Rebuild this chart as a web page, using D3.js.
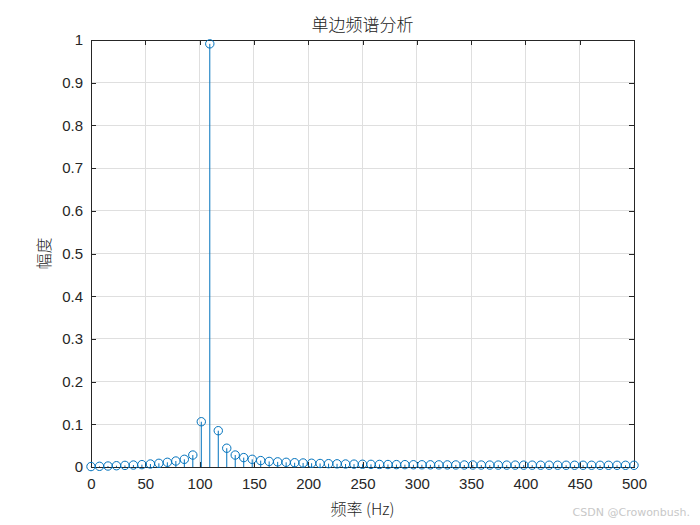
<!DOCTYPE html>
<html>
<head>
<meta charset="utf-8">
<script src="https://cdn.jsdelivr.net/npm/d3@7"></script>
<style>
html,body{margin:0;padding:0;background:#fff;}
svg{display:block;}
</style>
</head>
<body>
<script>
const freqs = [0, 7.81, 15.63, 23.44, 31.25, 39.06, 46.88, 54.69, 62.5, 70.31, 78.13, 85.94, 93.75, 101.56, 109.38, 117.19, 125, 132.81, 140.63, 148.44, 156.25, 164.06, 171.88, 179.69, 187.5, 195.31, 203.13, 210.94, 218.75, 226.56, 234.38, 242.19, 250, 257.81, 265.63, 273.44, 281.25, 289.06, 296.88, 304.69, 312.5, 320.31, 328.13, 335.94, 343.75, 351.56, 359.38, 367.19, 375, 382.81, 390.63, 398.44, 406.25, 414.06, 421.88, 429.69, 437.5, 445.31, 453.13, 460.94, 468.75, 476.56, 484.38, 492.19, 500];
const amps = [0.001, 0.0016, 0.0023, 0.003, 0.0038, 0.0046, 0.0055, 0.007, 0.0086, 0.011, 0.014, 0.018, 0.028, 0.106, 0.991, 0.085, 0.044, 0.028, 0.022, 0.018, 0.015, 0.013, 0.012, 0.011, 0.010, 0.0094, 0.0088, 0.0082, 0.0078, 0.0074, 0.007, 0.0067, 0.0064, 0.0062, 0.006, 0.0058, 0.0056, 0.0055, 0.0053, 0.0052, 0.0051, 0.005, 0.0049, 0.0048, 0.0047, 0.0047, 0.0046, 0.0045, 0.0045, 0.0044, 0.0044, 0.0043, 0.0043, 0.0042, 0.0042, 0.0042, 0.0041, 0.0041, 0.0041, 0.0041, 0.004, 0.004, 0.004, 0.004, 0.004];
const xTicks = [0, 50, 100, 150, 200, 250, 300, 350, 400, 450, 500];
const yTicks = [0, 0.1, 0.2, 0.3, 0.4, 0.5, 0.6, 0.7, 0.8, 0.9, 1];
const titleText = "单边频谱分析";
const xLabelText = "频率 (Hz)";
const yLabelText = "幅度";
const watermark = "CSDN @Crowonbush.";

const W = 700, H = 525;
const m = {left: 91, top: 40, right: 634, bottom: 467};
const svg = d3.select("body").append("svg").attr("width", W).attr("height", H);
const x = d3.scaleLinear().domain([0, 500]).range([m.left, m.right]);
const y = d3.scaleLinear().domain([0, 1]).range([m.bottom, m.top]);
const tickFont = "Liberation Sans, Arial, Helvetica, sans-serif";
const cjkFont = "'Noto Sans CJK SC', 'Noto Sans', sans-serif";
const axisColor = "#262626";
const blue = "#0072BD";

// grid
const g = svg.append("g");
g.selectAll(".gx").data(xTicks).enter().append("line")
  .attr("x1", d => x(d)).attr("x2", d => x(d)).attr("y1", m.top).attr("y2", m.bottom)
  .attr("stroke", "#dfdfdf").attr("stroke-width", 1).attr("shape-rendering", "crispEdges");
g.selectAll(".gy").data(yTicks).enter().append("line")
  .attr("y1", d => y(d)).attr("y2", d => y(d)).attr("x1", m.left).attr("x2", m.right)
  .attr("stroke", "#dfdfdf").attr("stroke-width", 1).attr("shape-rendering", "crispEdges");

// axes
const tl = 5;
const xAxisB = d3.axisBottom(x).tickValues(xTicks).tickSizeInner(-tl).tickSizeOuter(0).tickPadding(11).tickFormat(d3.format("d"));
const xAxisT = d3.axisTop(x).tickValues(xTicks).tickSizeInner(-tl).tickSizeOuter(0).tickFormat("");
const yAxisL = d3.axisLeft(y).tickValues(yTicks).tickSizeInner(-tl).tickSizeOuter(0).tickPadding(8).tickFormat(d => d === 0 ? "0" : d === 1 ? "1" : d3.format(".1f")(d));
const yAxisR = d3.axisRight(y).tickValues(yTicks).tickSizeInner(-tl).tickSizeOuter(0).tickFormat("");

function style(sel){
  sel.selectAll("path").attr("stroke", axisColor).attr("stroke-width", 1).attr("shape-rendering", "crispEdges");
  sel.selectAll("line").attr("stroke", axisColor).attr("shape-rendering", "crispEdges");
  sel.selectAll("text").attr("fill", axisColor).style("font-family", tickFont).style("font-size", "15px");
}
style(svg.append("g").attr("transform", `translate(0,${m.bottom})`).call(xAxisB));
style(svg.append("g").attr("transform", `translate(0,${m.top})`).call(xAxisT));
style(svg.append("g").attr("transform", `translate(${m.left},0)`).call(yAxisL));
style(svg.append("g").attr("transform", `translate(${m.right},0)`).call(yAxisR));

// stems
const data = freqs.map((f, i) => ({f, a: amps[i]}));
const plot = svg.append("g");
plot.selectAll(".stem").data(data).enter().append("line")
  .attr("x1", d => x(d.f)).attr("x2", d => x(d.f))
  .attr("y1", y(0)).attr("y2", d => y(d.a))
  .attr("stroke", blue).attr("stroke-width", 1);
plot.selectAll(".mk").data(data).enter().append("circle")
  .attr("cx", d => x(d.f)).attr("cy", d => y(d.a)).attr("r", 4.2)
  .attr("fill", "none").attr("stroke", blue).attr("stroke-width", 1);

// labels
svg.append("text").attr("x", (m.left + m.right) / 2).attr("y", 31).attr("text-anchor", "middle")
  .style("font-family", cjkFont).style("font-size", "17px").style("font-weight", "300").attr("fill", "#1a1a1a").text(titleText);
svg.append("text").attr("x", (m.left + m.right) / 2).attr("y", 515).attr("text-anchor", "middle")
  .style("font-family", cjkFont).style("font-size", "16px").style("font-weight", "300").attr("fill", "#1f1f1f").text(xLabelText);
svg.append("text").attr("transform", `translate(50,${(m.top + m.bottom) / 2}) rotate(-90)`).attr("text-anchor", "middle")
  .style("font-family", cjkFont).style("font-size", "16px").style("font-weight", "300").attr("fill", "#1f1f1f").text(yLabelText);
svg.append("text").attr("x", 690).attr("y", 516).attr("text-anchor", "end")
  .style("font-family", "'DejaVu Sans', sans-serif").style("font-size", "11px").attr("fill", "#c8c8c8").text(watermark);
</script>
</body>
</html>
